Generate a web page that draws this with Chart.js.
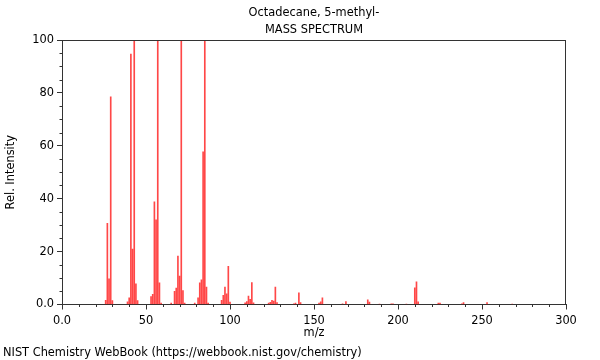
<!DOCTYPE html>
<html>
<head>
<meta charset="utf-8">
<script src="https://cdn.jsdelivr.net/npm/chart.js@4.4.1/dist/chart.umd.min.js"></script>
<style>
  html, body { margin: 0; padding: 0; background: #fff; }
  #wrap { width: 600px; height: 360px; }
</style>
</head>
<body>
<div id="wrap"><canvas id="c" width="600" height="360"></canvas></div>
<script>
const titleLines = ['Octadecane, 5-methyl-', 'MASS SPECTRUM'];
const xTitle = 'm/z';
const yTitle = 'Rel. Intensity';
const footer = 'NIST Chemistry WebBook (https://webbook.nist.gov/chemistry)';

const mz = [26,27,28,29,30,39,40,41,42,43,44,45,53,54,55,56,57,58,59,65,67,68,69,70,71,72,73,79,81,82,83,84,85,86,87,95,96,97,98,99,100,109,110,111,112,113,114,123,124,125,126,127,128,138,139,141,142,153,154,155,167,169,182,183,189,196,197,205,210,211,212,224,225,238,239,253,268];
const intensity = [1.6,30.7,9.7,78.5,1.5,1.0,2.5,94.7,21,100,7.8,1.5,3,3.8,38.8,32,99.5,8.2,0.5,0.5,5,6.2,18.3,10.7,99.6,5.3,0.5,0.5,2.5,8.2,9.3,57.7,99.8,6.6,0.5,1.6,3.5,6.6,4,14.4,0.9,0.6,1.1,3.2,2,8.3,0.6,0.5,0.8,1.6,1.3,6.6,0.7,0.3,0.5,4.4,0.7,0.5,1,2.5,0.3,1.1,1.8,0.9,0.2,0.3,0.3,0.2,6.3,8.6,1,0.5,0.5,0.3,0.7,0.7,0.2];

const xMajorTicks = [0, 50, 100, 150, 200, 250, 300];
const yMajorTicks = [0, 20, 40, 60, 80, 100];

const FONT = '"DejaVu Sans", sans-serif';
const FS = 11.4;
const AXIS = '#333';

const points = mz.map((m, i) => ({ x: m, y: intensity[i] }));

const decor = {
  id: 'decor',
  afterDraw(chart) {
    const ctx = chart.ctx;
    const { left, right, top, bottom } = chart.chartArea;
    const xs = chart.scales.x, ys = chart.scales.y;
    ctx.save();
    ctx.strokeStyle = AXIS;
    ctx.lineWidth = 1;
    ctx.beginPath();
    ctx.moveTo(left, top + 0.5); ctx.lineTo(right, top + 0.5);
    ctx.moveTo(right - 0.5, top); ctx.lineTo(right - 0.5, bottom);
    for (let v = 0; v <= 300; v += 10) {
      if (v % 50 === 0) continue;
      const px = Math.round(xs.getPixelForValue(v)) + 0.5;
      ctx.moveTo(px, bottom); ctx.lineTo(px, bottom + 2.5);
    }
    for (let v = 0; v <= 100; v += 5) {
      if (v % 20 === 0) continue;
      const py = Math.round(ys.getPixelForValue(v)) + 0.5;
      ctx.moveTo(left, py); ctx.lineTo(left - 2.5, py);
    }
    ctx.stroke();

    ctx.fillStyle = '#000';
    ctx.font = FS + 'px ' + FONT;
    ctx.textAlign = 'center';
    ctx.textBaseline = 'middle';
    const cx = (left + right) / 2;
    ctx.fillText(titleLines[0], cx, 13);
    ctx.fillText(titleLines[1], cx, 30);
    ctx.fillText(xTitle, cx, 333);
    ctx.save();
    ctx.translate(11, (top + bottom) / 2);
    ctx.rotate(-Math.PI / 2);
    ctx.fillText(yTitle, 0, 0);
    ctx.restore();
    ctx.textAlign = 'left';
    ctx.fillText(footer, 3, 353);
    ctx.restore();
  }
};

new Chart(document.getElementById('c'), {
  type: 'bar',
  data: {
    datasets: [{
      data: points,
      backgroundColor: 'rgba(255,0,0,0.72)',
      borderWidth: 0,
      barThickness: 1,
      grouped: false
    }]
  },
  options: {
    responsive: false,
    animation: false,
    events: [],
    layout: { padding: { top: 40, right: 34, left: 0, bottom: 0 } },
    plugins: { legend: { display: false }, tooltip: { enabled: false }, title: { display: false } },
    scales: {
      x: {
        type: 'linear',
        min: 0, max: 300,
        offset: false,
        afterFit(s) { s.height = 55.5; },
        afterBuildTicks(s) { s.ticks = xMajorTicks.map(v => ({ value: v })); },
        ticks: {
          font: { family: FONT, size: FS }, color: '#000', padding: 5, maxRotation: 0,
          callback: v => v === 0 ? '0.0' : String(v)
        },
        grid: { drawOnChartArea: false, tickLength: 5, color: AXIS, offset: false },
        border: { color: AXIS }
      },
      y: {
        min: 0, max: 100,
        afterFit(s) { s.width = 62; },
        afterBuildTicks(s) { s.ticks = yMajorTicks.map(v => ({ value: v })); },
        ticks: {
          font: { family: FONT, size: FS }, color: '#000', padding: 3,
          callback: v => v === 0 ? '0.0' : String(v)
        },
        grid: { drawOnChartArea: false, tickLength: 5, color: AXIS },
        border: { color: AXIS }
      }
    }
  },
  plugins: [decor]
});
</script>
</body>
</html>
